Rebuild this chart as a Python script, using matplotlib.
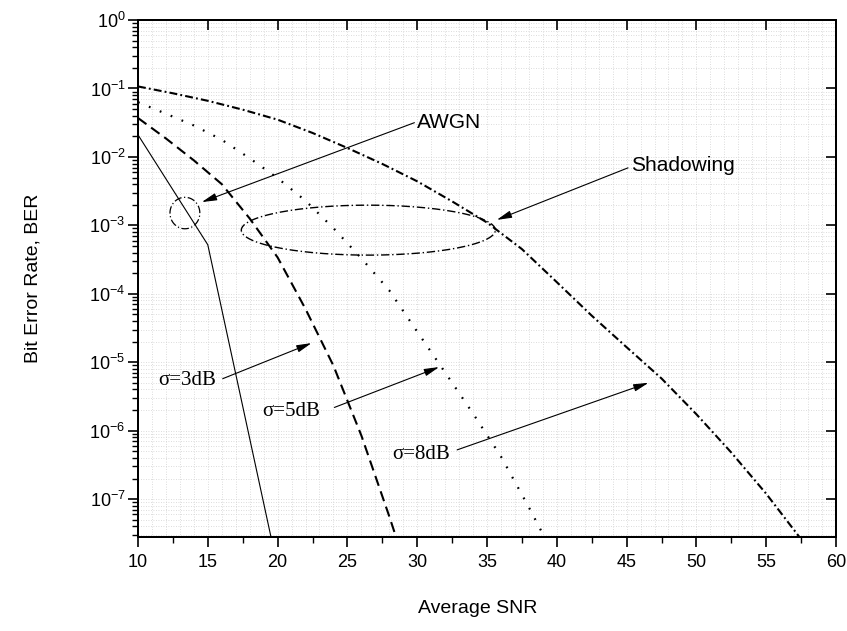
import numpy as np
import matplotlib
matplotlib.use('Agg')
import matplotlib.pyplot as plt
from matplotlib.ticker import MultipleLocator, LogLocator, NullLocator, NullFormatter, FuncFormatter

plt.rcParams['font.family'] = 'Liberation Sans'
plt.rcParams['mathtext.fontset'] = 'custom'
plt.rcParams['mathtext.rm'] = 'Liberation Sans'
plt.rcParams['mathtext.default'] = 'rm'

# BER curves (average SNR in dB)
snr_awgn = [10, 15, 20]
ber_awgn = [2.1e-2, 5.2e-4, 1.0e-8]

snr_3db = [10, 12, 14, 16, 18, 20, 22, 24, 26, 28, 30]
ber_3db = [3.7e-2, 1.86e-2, 8.9e-3, 4.0e-3, 1.26e-3, 3.4e-4, 6.0e-5, 8.9e-6,
           8.5e-7, 5.6e-8, 3.2e-9]

snr_5db = [10, 12, 14, 16, 18, 20, 22, 24, 26, 28, 30, 32, 34, 36, 38, 40]
ber_5db = [6.3e-2, 4.27e-2, 2.88e-2, 1.78e-2, 9.55e-3, 4.9e-3, 2.29e-3, 9.1e-4,
           3.3e-4, 1.12e-4, 2.8e-5, 7.1e-6, 1.78e-6, 4.2e-7, 7.6e-8, 1.26e-8]

snr_8db = [10, 12.5, 15, 17.5, 20, 22.5, 25, 27.5, 30, 32.5, 35, 37.5, 40,
           42.5, 45, 47.5, 50, 52.5, 55, 57.5, 60]
ber_8db = [0.107, 0.085, 0.066, 0.049, 0.035, 0.0224, 0.0135, 7.9e-3, 4.4e-3,
           2.24e-3, 1.10e-3, 4.5e-4, 1.48e-4, 4.8e-5, 1.66e-5, 5.8e-6, 1.74e-6,
           4.8e-7, 1.20e-7, 2.6e-8, 5.0e-9]

fig = plt.figure(figsize=(8.47, 6.31), dpi=100)
ax = fig.add_axes([138 / 847, 1 - 537 / 631, 698 / 847, 517 / 631])
ax.set_yscale('log')
ax.set_xlim(10, 60)
ax.set_ylim(2.8e-8, 1)

# faint dotted grid
for gx in np.arange(11, 60, 1):
    ax.axvline(gx, color='#d0d0d0', lw=0.6, ls=(0, (1, 2)), zorder=0)
ax.grid(True, which='both', axis='y', color='#d0d0d0', lw=0.6, ls=(0, (1, 2)), zorder=0)

ax.plot(snr_awgn, ber_awgn, color='k', lw=0.8)
ax.plot(snr_3db, ber_3db, color='k', lw=1.5, ls=(0, (5, 2.8)))
ax.plot(snr_5db, ber_5db, color='k', lw=1.6, ls=(0, (0.8, 4.5)))
ax.plot(snr_8db, ber_8db, color='k', lw=1.5, ls=(0, (3.8, 1.5, 0.9, 1.5)))


def log_ellipse(cx, cy_log, rx, ry_log):
    t = np.linspace(0, 2 * np.pi, 200)
    return cx + rx * np.cos(t), 10 ** (cy_log + ry_log * np.sin(t))


ex, ey = log_ellipse(13.36, -2.82, 1.07, 0.23)
ax.plot(ex, ey, color='k', lw=0.9, ls=(0, (6, 2, 1, 2)))
ex, ey = log_ellipse(26.5, -3.07, 9.1, 0.365)
ax.plot(ex, ey, color='k', lw=1.0, ls=(0, (6, 2, 1, 2)))

arrow = dict(arrowstyle='-|>,head_length=0.9,head_width=0.22', color='k', lw=0.8,
             shrinkA=0, shrinkB=0)

ax.annotate('', xy=(14.57, 10 ** -2.66), xytext=(29.8, 10 ** -1.50), arrowprops=arrow)
ax.text(30.0, 10 ** -1.50, 'AWGN', fontsize=15, ha='left', va='center')

ax.annotate('', xy=(35.7, 10 ** -2.92), xytext=(45.1, 10 ** -2.16), arrowprops=arrow)
ax.text(45.3, 10 ** -2.12, 'Shadowing', fontsize=15, ha='left', va='center')

serif = dict(family='Liberation Serif', fontsize=15, ha='center', va='center')
ax.annotate('', xy=(22.43, 10 ** -4.72), xytext=(16.07, 10 ** -5.24), arrowprops=arrow)
ax.text(13.54, 10 ** -5.26, 'σ=3dB', **serif)
ax.annotate('', xy=(31.57, 10 ** -5.07), xytext=(24.07, 10 ** -5.66), arrowprops=arrow)
ax.text(20.96, 10 ** -5.72, 'σ=5dB', **serif)
ax.annotate('', xy=(46.57, 10 ** -5.30), xytext=(32.86, 10 ** -6.28), arrowprops=arrow)
ax.text(30.25, 10 ** -6.35, 'σ=8dB', **serif)

# ticks
ax.xaxis.set_major_locator(MultipleLocator(5))
ax.xaxis.set_minor_locator(MultipleLocator(2.5))
ax.yaxis.set_major_locator(LogLocator(base=10, numticks=20))
ax.yaxis.set_minor_locator(LogLocator(base=10, subs=np.arange(2, 10), numticks=20))
ax.yaxis.set_minor_formatter(NullFormatter())
ax.yaxis.set_major_formatter(FuncFormatter(lambda v, p: r'$10^{%d}$' % round(np.log10(v))))
ax.tick_params(axis='both', which='major', direction='out', length=7, width=1.2,
               labelsize=13, top=False, right=False)
ax.tick_params(axis='both', which='minor', direction='out', length=4, width=1.0,
               top=False, right=False)
ax.tick_params(axis='y', which='major', pad=2)
ax.tick_params(axis='x', which='major', pad=5)

for s in ax.spines.values():
    s.set_linewidth(1.4)

# inward ticks on the top and right frame
ax_top = ax.twiny()
ax_top.set_xlim(ax.get_xlim())
ax_top.xaxis.set_major_locator(MultipleLocator(5))
ax_top.xaxis.set_minor_locator(NullLocator())
ax_top.tick_params(axis='x', direction='in', length=7, width=1.2, labeltop=False)
ax_right = ax.twinx()
ax_right.set_yscale('log')
ax_right.set_ylim(ax.get_ylim())
ax_right.yaxis.set_major_locator(LogLocator(base=10, numticks=20))
ax_right.yaxis.set_minor_locator(NullLocator())
ax_right.tick_params(axis='y', direction='in', length=7, width=1.2, labelright=False)
for a in (ax_top, ax_right):
    for s in a.spines.values():
        s.set_linewidth(1.4)

ax.set_xlabel('Average SNR', fontsize=14)
ax.set_ylabel('Bit Error Rate, BER', fontsize=14)
ax.xaxis.set_label_coords(0.487, -0.122)
ax.yaxis.set_label_coords(-0.138, 0.5)

fig.savefig('out.png', dpi=100)
